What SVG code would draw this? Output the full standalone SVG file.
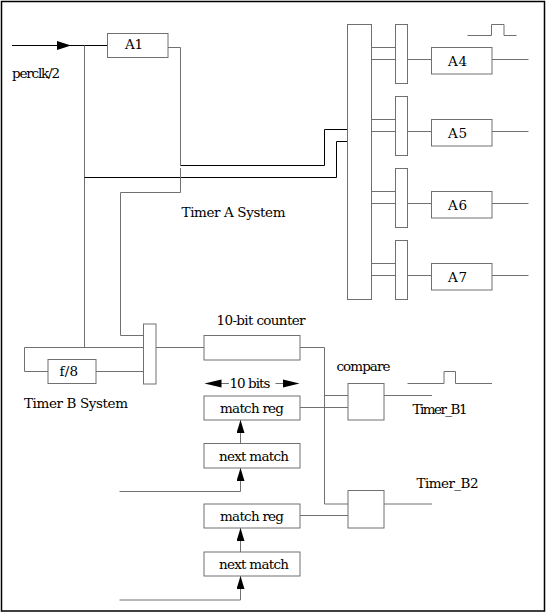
<svg xmlns="http://www.w3.org/2000/svg" width="546" height="612" viewBox="0 0 546 612">
<style>
  .box { fill: none; stroke: #707070; stroke-width: 1; }
  .w { fill: none; stroke: #707070; stroke-width: 1; }
  .k { fill: none; stroke: #000; stroke-width: 1; }
  .ah { fill: #000; stroke: none; }
  .t { font-family: 'DejaVu Serif', 'Liberation Serif', serif; font-size: 13.5px; fill: #000; }
</style>
<defs>
  <marker id="arr" viewBox="0 0 13 8" refX="13" refY="4" markerWidth="13" markerHeight="8" markerUnits="userSpaceOnUse" orient="auto">
    <path d="M0,0 L13,4 L0,8 Z" fill="#000"/>
  </marker>
</defs>
<rect x="1.5" y="1.5" width="543" height="609.5" fill="#fff" stroke="#000" stroke-width="1.5"/>

<g id="connectors">
  <path class="k" d="M12,45.5 H108"/>
  <polygon class="ah" points="71,45.5 57,41 57,50"/>
  <path class="w" d="M168,47.5 H180.5 V165.5"/>
  <path class="k" d="M180.5,165.5 H324.5 V129.5 H347.5"/>
  <path class="w" d="M84.5,45.5 V347.5"/>
  <path class="k" d="M84.5,177.5 H336.5 V141.5 H347.5"/>
  <path class="w" d="M180.5,168 V192.5 H120.5 V335.5 H143.5"/>
  <path class="w" d="M371.5,47.5 H395.5 M371.5,59.5 H395.5 M371.5,119.5 H395.5 M371.5,131.5 H395.5 M371.5,191.5 H395.5 M371.5,203.5 H395.5 M371.5,263.5 H395.5 M371.5,275.5 H395.5"/>
  <path class="w" d="M407.5,59.5 H431.5 M407.5,131.5 H431.5 M407.5,203.5 H431.5 M407.5,275.5 H431.5"/>
  <path class="w" d="M492,59.5 H528.5 M492,131.5 H528.5 M492,203.5 H528.5 M492,275.5 H528.5"/>
  <path class="w" d="M467.5,35.5 H491.5 V24.5 H504 V35.5 H516.5"/>
  <path class="w" d="M24.5,347.5 H143.5"/>
  <path class="w" d="M24.5,347.5 V371.5 H48"/>
  <path class="w" d="M96,371.5 H143.5"/>
  <path class="w" d="M156,347.5 H204"/>
  <path class="w" d="M300,347.5 H324.5 V504 H348"/>
  <path class="w" d="M324.5,395.5 H348"/>
  <path class="w" d="M300,407.5 H348"/>
  <path class="w" d="M300,515.5 H348"/>
  <path class="w" d="M384,395.5 H432"/>
  <path class="w" d="M384,504 H432"/>
  <path class="w" d="M407.5,383.5 H444 V371.5 H455.5 V383.5 H492"/>
  <path class="w" d="M240.5,443.5 V420" marker-end="url(#arr)"/>
  <path class="w" d="M119.5,491.5 H240.5 V468" marker-end="url(#arr)"/>
  <path class="w" d="M240.5,552 V528" marker-end="url(#arr)"/>
  <path class="w" d="M119.5,600 H240.5 V576" marker-end="url(#arr)"/>
  <path class="w" d="M215,383.5 H229"/>
  <path class="w" d="M275.5,383.5 H290"/>
  <polygon class="ah" points="204.5,383.5 221.5,379.5 221.5,387.5"/>
  <polygon class="ah" points="299.5,383.5 283,379.5 283,387.5"/>
</g>

<g id="A1"><rect class="box" x="107.5" y="33.5" width="60.5" height="24"/><text class="t" x="125" y="49" textLength="18">A1</text></g>
<g id="busA"><rect class="box" x="347.5" y="24.5" width="24" height="275"/></g>
<g id="muxA4"><rect class="box" x="395.5" y="24.5" width="12" height="59"/></g>
<g id="muxA5"><rect class="box" x="395.5" y="96.5" width="12" height="59"/></g>
<g id="muxA6"><rect class="box" x="395.5" y="168.5" width="12" height="59"/></g>
<g id="muxA7"><rect class="box" x="395.5" y="240.5" width="12" height="59"/></g>
<g id="A4"><rect class="box" x="431.5" y="47.5" width="60.5" height="26.5"/><text class="t" x="448" y="66" textLength="19">A4</text></g>
<g id="A5"><rect class="box" x="431.5" y="119.5" width="60.5" height="26.5"/><text class="t" x="448" y="138" textLength="19">A5</text></g>
<g id="A6"><rect class="box" x="431.5" y="191.5" width="60.5" height="26.5"/><text class="t" x="448" y="210" textLength="19">A6</text></g>
<g id="A7"><rect class="box" x="431.5" y="263.5" width="60.5" height="26.5"/><text class="t" x="448" y="282" textLength="19">A7</text></g>

<g id="muxB"><rect class="box" x="143.5" y="324" width="12.5" height="60"/></g>
<g id="f8"><rect class="box" x="48" y="359.5" width="48" height="24"/><text class="t" x="59.5" y="375.5" textLength="18.5">f/8</text></g>
<g id="counter"><rect class="box" x="204" y="335.5" width="96" height="24.5"/></g>
<g id="matchreg1"><rect class="box" x="204" y="396" width="96" height="24"/><text class="t" x="220" y="412.5" textLength="64">match reg</text></g>
<g id="nextmatch1"><rect class="box" x="204" y="443.5" width="96" height="24.5"/><text class="t" x="219" y="460.5" textLength="70">next match</text></g>
<g id="matchreg2"><rect class="box" x="204" y="504" width="96" height="24"/><text class="t" x="220" y="521" textLength="64">match reg</text></g>
<g id="nextmatch2"><rect class="box" x="204" y="552" width="96" height="24"/><text class="t" x="219" y="569" textLength="70">next match</text></g>
<g id="compare1"><rect class="box" x="348" y="383.5" width="36" height="36.5"/></g>
<g id="compare2"><rect class="box" x="348" y="490.5" width="36" height="37.5"/></g>

<g id="labels">
  <text class="t" x="12" y="77.5" textLength="48">perclk/2</text>
  <text class="t" x="181.5" y="216.5" textLength="104">Timer A System</text>
  <text class="t" x="216.5" y="324.5" textLength="89">10-bit counter</text>
  <text class="t" x="229.5" y="387.5" textLength="41">10 bits</text>
  <text class="t" x="336.5" y="371" textLength="54">compare</text>
  <text class="t" x="412.5" y="414" textLength="55">Timer_B1</text>
  <text class="t" x="416.5" y="487.5" textLength="62">Timer_B2</text>
  <text class="t" x="24" y="408" textLength="104">Timer B System</text>
</g>
</svg>
